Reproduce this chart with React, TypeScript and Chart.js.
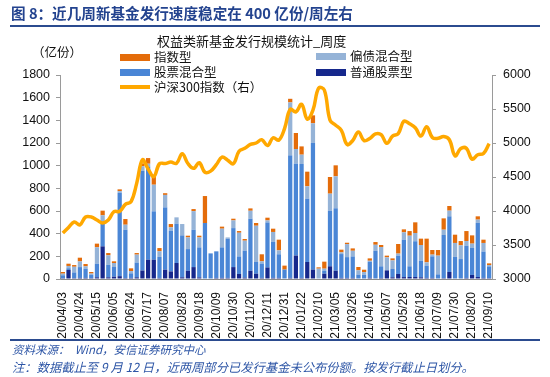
import React, { useEffect, useRef } from "react";
import { Chart, registerables } from "chart.js";
Chart.register(...registerables);

const categories = [
  "20/04/03","20/04/10","20/04/17","20/04/24","20/04/30","20/05/08","20/05/15","20/05/22","20/05/29","20/06/05",
  "20/06/12","20/06/19","20/06/24","20/07/03","20/07/10","20/07/17","20/07/24","20/07/31","20/08/07","20/08/14",
  "20/08/21","20/08/28","20/09/04","20/09/11","20/09/18","20/09/25","20/09/30","20/10/09","20/10/16","20/10/23",
  "20/10/30","20/11/06","20/11/13","20/11/20","20/11/27","20/12/04","20/12/11","20/12/18","20/12/25","20/12/31",
  "21/01/08","21/01/15","21/01/22","21/01/29","21/02/05","21/02/10","21/02/19","21/02/26","21/03/05","21/03/12",
  "21/03/19","21/03/26","21/04/02","21/04/09","21/04/16","21/04/23","21/04/30","21/05/07","21/05/14","21/05/21",
  "21/05/28","21/06/04","21/06/11","21/06/18","21/06/25","21/07/02","21/07/09","21/07/16","21/07/23","21/07/30",
  "21/08/06","21/08/13","21/08/20","21/08/27","21/09/03","21/09/10"
];

// 普通股票型
const plainStock = [
  8, 80, 8, 10, 10, 8, 15, 288, 15, 20,
  25, 9, 10, 15, 75, 170, 170, 10, 82, 67,
  141, 15, 73, 105, 14, 0, 0, 10, 10, 10,
  105, 44, 12, 73, 47, 10, 102, 10, 10, 0,
  10, 207, 10, 150, 83, 0, 47, 112, 73, 10,
  10, 10, 5, 5, 11, 5, 10, 76, 15, 44,
  17, 18, 18, 15, 10, 10, 5, 8, 62, 5,
  5, 10, 36, 18, 10, 8
];
// 股票混合型
const stockMix = [
  25, 15, 50, 95, 80, 30, 120, 206, 110, 86,
  735, 426, 40, 130, 880, 823, 427, 185, 550, 360,
  347, 370, 191, 329, 265, 494, 226, 234, 269, 345,
  344, 155, 238, 459, 103, 126, 397, 317, 208, 83,
  1081, 811, 1005, 559, 1118, 0, 26, 491, 551, 210,
  183, 189, 34, 32, 141, 244, 102, 0, 73, 162,
  330, 94, 315, 147, 108, 190, 36, 380, 491, 190,
  171, 284, 238, 477, 232, 103
];
// 偏债混合型
const bondMix = [
  14, 20, 50, 50, 22, 10, 145, 68, 84, 35,
  15, 44, 20, 70, 40, 24, 235, 50, 110, 29,
  56, 100, 103, 165, 88, 0, 0, 0, 165, 12,
  68, 209, 88, 70, 320, 20, 18, 88, 35, 0,
  467, 129, 82, 109, 173, 91, 18, 150, 282, 15,
  115, 50, 38, 24, 9, 53, 170, 115, 76, 18,
  65, 270, 73, 138, 29, 15, 165, 47, 50, 123,
  121, 41, 38, 29, 76, 12
];
// 指数型
const indexFund = [
  15, 20, 15, 33, 20, 14, 32, 41, 20, 15,
  16, 50, 24, 14, 25, 50, 68, 28, 15, 29,
  0, 0, 15, 18, 15, 238, 0, 0, 18, 0,
  15, 15, 15, 21, 24, 62, 24, 29, 94, 35,
  32, 141, 73, 129, 70, 12, 62, 147, 97, 24,
  12, 21, 29, 21, 21, 24, 18, 15, 18, 85,
  26, 41, 94, 56, 209, 41, 50, 100, 41, 73,
  38, 88, 73, 29, 29, 15
];
// 沪深300指数（右）
const csi300 = [
  3675, 3757, 3839, 3797, 3912, 3912, 3867, 3824, 3868, 3990,
  3995, 4098, 4138, 4410, 4753, 4619, 4506, 4695, 4699, 4719,
  4701, 4842, 4698, 4627, 4710, 4570, 4587, 4681, 4792, 4747,
  4695, 4878, 4922, 4979, 5000, 5049, 4963, 5077, 5042, 5211,
  5495, 5458, 5569, 5351, 5483, 5807, 5779, 5336, 5262, 5187,
  4977, 5037, 5161, 5035, 5066, 5135, 5123, 4995, 5100, 5138,
  5321, 5282, 5224, 5102, 5240, 5082, 5069, 5094, 5048, 4811,
  4918, 4921, 4763, 4827, 4845, 4992
];

const C_INDEX = "#E46C0A";
const C_STOCKMIX = "#4A86D6";
const C_BOND = "#95B3D7";
const C_PLAIN = "#16288C";
const C_LINE = "#FFA800";
const BLUE_TEXT = "#23438F";

const TICK_FONT = "'Liberation Sans', Arial, sans-serif";
const CJK = "'Noto Sans CJK SC', sans-serif";

export default function App() {
  const ref = useRef<HTMLCanvasElement>(null);

  useEffect(() => {
    document.body.style.margin = "0";
    const barCommon = {
      stack: "s",
      yAxisID: "y",
      order: 1,
      barPercentage: 0.75,
      categoryPercentage: 1,
    };
    const chart = new Chart(ref.current as HTMLCanvasElement, {
      type: "bar",
      data: {
        labels: categories,
        datasets: [
          {
            type: "line",
            label: "沪深300指数（右）",
            data: csi300,
            yAxisID: "y1",
            borderColor: C_LINE,
            backgroundColor: C_LINE,
            borderWidth: 3.5,
            pointRadius: 0,
            tension: 0.4,
            order: 0,
          } as any,
          { ...barCommon, label: "普通股票型", data: plainStock, backgroundColor: C_PLAIN } as any,
          { ...barCommon, label: "股票混合型", data: stockMix, backgroundColor: C_STOCKMIX } as any,
          { ...barCommon, label: "偏债混合型", data: bondMix, backgroundColor: C_BOND } as any,
          { ...barCommon, label: "指数型", data: indexFund, backgroundColor: C_INDEX } as any,
        ],
      },
      options: {
        responsive: false,
        animation: false,
        devicePixelRatio: 1,
        layout: { padding: { top: 75, left: 0, right: 0, bottom: 0 } },
        plugins: { legend: { display: false }, title: { display: false }, tooltip: { enabled: false } },
        scales: {
          x: {
            stacked: true,
            offset: true,
            grid: { display: false },
            border: { display: true, color: "#8c8c8c", width: 1 },
            ticks: {
              autoSkip: false,
              minRotation: 90,
              maxRotation: 90,
              padding: 5,
              color: "#111",
              font: { family: TICK_FONT, size: 12 },
              callback: (_v: any, i: number) => (i % 3 === 0 ? categories[i] : ""),
            },
            afterFit: (s: any) => { s.height = 98; },
          },
          y: {
            type: "linear",
            position: "left",
            stacked: true,
            min: 0,
            max: 1800,
            grid: { display: true, drawOnChartArea: false, drawTicks: true, tickLength: 4, color: "#9a9a9a" },
            border: { display: true, color: "#9a9a9a", width: 1 },
            ticks: {
              stepSize: 200, padding: 6, color: "#111", font: { family: TICK_FONT, size: 12.5 },
              callback: (v: any) => String(v),
            },
            afterFit: (s: any) => { s.width = 60; },
          },
          y1: {
            type: "linear",
            position: "right",
            min: 3000,
            max: 6000,
            grid: { display: true, drawOnChartArea: false, drawTicks: true, tickLength: 4, color: "#9a9a9a" },
            border: { display: true, color: "#9a9a9a", width: 1 },
            ticks: {
              stepSize: 500, padding: 7, color: "#111", font: { family: TICK_FONT, size: 12.5 },
              callback: (v: any) => String(v),
            },
            afterFit: (s: any) => { s.width = 58; },
          },
        },
      } as any,
    });
    return () => chart.destroy();
  }, []);

  const abs = (o: React.CSSProperties): React.CSSProperties => ({ position: "absolute", whiteSpace: "nowrap", ...o });

  const legendText = (left: number, cy: number, text: string) => (
    <div style={abs({ left, top: cy - 9, height: 18, lineHeight: "18px", fontFamily: CJK, fontSize: 12.5, color: "#111" })}>{text}</div>
  );
  const swatch = (left: number, cy: number, color: string, h = 7) => (
    <div style={abs({ left, top: cy - h / 2, width: 30, height: h, background: color })} />
  );

  return (
    <div style={{ position: "fixed", left: 0, top: 0, width: 550, height: 377, background: "#fff", overflow: "hidden" }}>
      <canvas ref={ref} width={550} height={377} style={{ position: "absolute", left: 0, top: 0, width: 550, height: 377, display: "block" }} />
      {/* header */}
      <div style={abs({ left: 11, top: 3, height: 20, lineHeight: "20px", fontFamily: CJK, fontWeight: 700, fontSize: 14.6, color: BLUE_TEXT })}>
        图 8：近几周新基金发行速度稳定在 400 亿份/周左右
      </div>
      <div style={abs({ left: 10, top: 25, width: 530, height: 1.5, background: "#2B4B8F" })} />
      {/* chart title */}
      <div style={abs({ left: 157, top: 32, height: 18, lineHeight: "18px", fontFamily: CJK, fontSize: 13, color: "#111" })}>
        权益类新基金发行规模统计_周度
      </div>
      <div style={abs({ left: 32, top: 43, height: 18, lineHeight: "18px", fontFamily: CJK, fontSize: 12.5, color: "#111" })}>（亿份）</div>
      {/* legend */}
      {swatch(120, 57, C_INDEX)}
      {legendText(154, 57, "指数型")}
      {swatch(120, 72, C_STOCKMIX)}
      {legendText(154, 72, "股票混合型")}
      {swatch(120, 87, C_LINE, 4)}
      {legendText(154, 87, "沪深300指数（右）")}
      {swatch(316, 56, C_BOND)}
      {legendText(350, 56, "偏债混合型")}
      {swatch(316, 72, C_PLAIN)}
      {legendText(350, 72, "普通股票型")}
      {/* footer */}
      <div style={abs({ left: 10, top: 339, width: 530, height: 1.5, background: "#2B4B8F" })} />
      <div style={abs({ left: 12, top: 341, height: 17, lineHeight: "17px", fontFamily: CJK, fontStyle: "italic", fontSize: 11.5, color: "#2E56A6" })}>
        资料来源：&nbsp;&nbsp;Wind，安信证券研究中心
      </div>
      <div style={abs({ left: 12, top: 359, height: 17, lineHeight: "17px", fontFamily: CJK, fontStyle: "italic", fontSize: 12.3, color: "#2E56A6" })}>
        注：数据截止至 9 月 12 日，近两周部分已发行基金未公布份额。按发行截止日划分。
      </div>
    </div>
  );
}
